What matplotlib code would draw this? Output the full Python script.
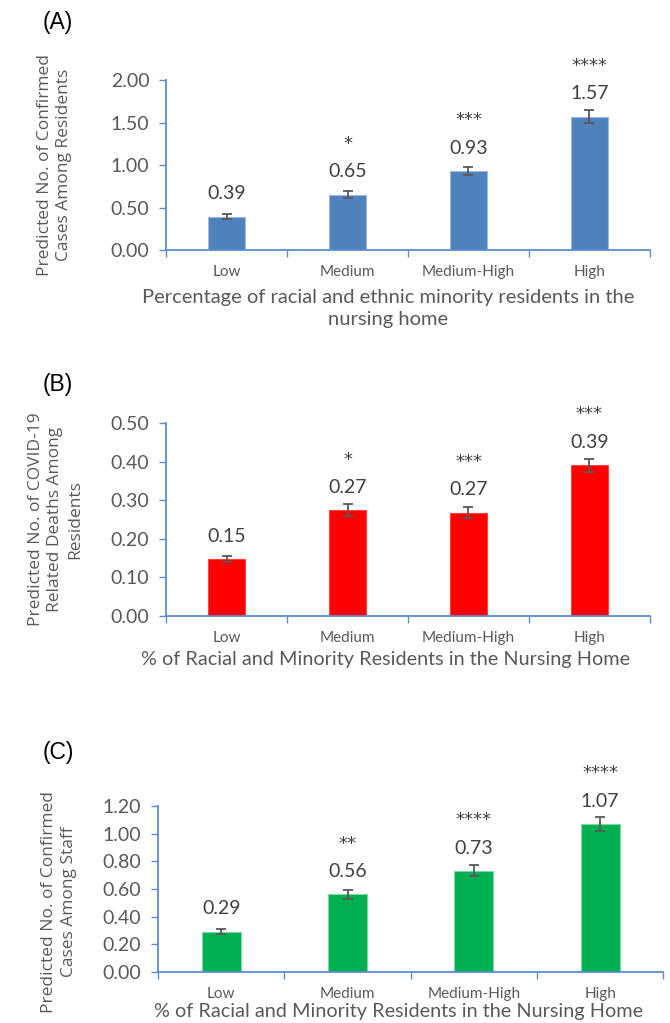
import matplotlib
matplotlib.use("Agg")
import matplotlib.pyplot as plt
import numpy as np

CATEGORIES = ["Low", "Medium", "Medium-High", "High"]

# (A) confirmed cases among residents
CASES_RES = [0.39, 0.65, 0.93, 1.57]
CASES_RES_ERR = [0.03, 0.04, 0.05, 0.08]
CASES_RES_STARS = ["", "*", "***", "****"]

# (B) COVID-19 related deaths among residents
DEATHS_RES = [0.147, 0.274, 0.268, 0.391]
DEATHS_RES_ERR = [0.008, 0.015, 0.014, 0.017]
DEATHS_RES_STARS = ["", "*", "***", "***"]

# (C) confirmed cases among staff
CASES_STAFF = [0.29, 0.56, 0.73, 1.07]
CASES_STAFF_ERR = [0.02, 0.03, 0.04, 0.05]
CASES_STAFF_STARS = ["", "**", "****", "****"]

AXIS_BLUE = "#5B8DD0"
GREY = "#595959"
DARK = "#404040"
MAIN_FONT = ["Lato", "DejaVu Sans"]
LABEL_FONT = ["Open Sans", "DejaVu Sans"]


def draw_panel(ax, values, errs, stars, color, edge, yticks, ylabel, ylab_x, ylab_y):
    x = np.arange(len(CATEGORIES))
    ax.bar(x, values, width=0.31, color=color, edgecolor=edge, linewidth=0.8, zorder=2)
    ax.errorbar(x, values, yerr=errs, fmt="none", ecolor=GREY, elinewidth=1.3,
                capsize=3.6, capthick=1.3, zorder=3)
    for xi, v, s in zip(x, values, stars):
        ax.annotate(f"{v:.2f}", (xi, v), xytext=(0, 16.5), textcoords="offset points",
                    ha="center", va="center", fontsize=14, color=DARK, family=MAIN_FONT)
        if s:
            ax.annotate(s, (xi, v), xytext=(0, 36.5), textcoords="offset points",
                        ha="center", va="center", fontsize=13, color=DARK,
                        family=["DejaVu Sans"])

    ax.set_xlim(-0.5, len(CATEGORIES) - 0.5)
    ax.set_ylim(yticks[0], yticks[-1])
    ax.set_yticks(yticks)
    ax.set_yticklabels([f"{t:.2f}" for t in yticks], family=MAIN_FONT, fontsize=14, color=GREY)
    ax.tick_params(axis="y", direction="out", length=5, width=1, color=AXIS_BLUE, pad=7)

    # ticks on category boundaries, labels in the middle
    ax.set_xticks(np.arange(-0.5, len(CATEGORIES), 1.0))
    ax.set_xticklabels([])
    ax.tick_params(axis="x", which="major", direction="out", length=5, width=1, color=AXIS_BLUE)
    ax.set_xticks(x, minor=True)
    ax.set_xticklabels(CATEGORIES, minor=True, family=MAIN_FONT, fontsize=11, color=GREY)
    ax.tick_params(axis="x", which="minor", length=0, pad=11)

    for side in ["top", "right"]:
        ax.spines[side].set_visible(False)
    for side in ["left", "bottom"]:
        ax.spines[side].set_color(AXIS_BLUE)
        ax.spines[side].set_linewidth(1.3)

    ax.text(ylab_x, ylab_y, ylabel, transform=ax.transAxes, rotation=90,
            ha="center", va="center", fontsize=12.5, color=GREY, family=LABEL_FONT,
            linespacing=1.3)


fig = plt.figure(figsize=(6.7, 10.23), dpi=100)

ax_a = fig.add_axes([0.248, 0.7556, 0.722, 0.1662])
draw_panel(ax_a, CASES_RES, CASES_RES_ERR, CASES_RES_STARS, "#4F81BD", "#9DB9E0",
           [0.0, 0.5, 1.0, 1.5, 2.0],
           "Predicted No. of Confirmed\nCases Among Residents", -0.231, 0.5)

ax_b = fig.add_axes([0.248, 0.3978, 0.722, 0.1887])
draw_panel(ax_b, DEATHS_RES, DEATHS_RES_ERR, DEATHS_RES_STARS, "#FF0000", "#FF4040",
           [0.0, 0.1, 0.2, 0.3, 0.4, 0.5],
           "Predicted No. of COVID-19\nRelated Deaths Among\nResidents", -0.229, 0.5)

ax_c = fig.add_axes([0.236, 0.0501, 0.754, 0.1620])
draw_panel(ax_c, CASES_STAFF, CASES_STAFF_ERR, CASES_STAFF_STARS, "#00B050", "#7FD7A7",
           [0.0, 0.2, 0.4, 0.6, 0.8, 1.0, 1.2],
           "Predicted No. of Confirmed\nCases Among Staff", -0.196, 0.42)

# x-axis titles
fig.text(388 / 670, 1 - 308.5 / 1023,
         "Percentage of racial and ethnic minority residents in the\nnursing home",
         ha="center", va="center", fontsize=14.5, color=GREY, family=MAIN_FONT, linespacing=1.3)
fig.text(386 / 670, 1 - 660 / 1023,
         "% of Racial and Minority Residents in the Nursing Home",
         ha="center", va="center", fontsize=14.3, color=GREY, family=MAIN_FONT)
fig.text(399 / 670, 1 - 1011 / 1023,
         "% of Racial and Minority Residents in the Nursing Home",
         ha="center", va="center", fontsize=14.3, color=GREY, family=MAIN_FONT)

# panel letters
for letter, ypix in [("(A)", 22), ("(B)", 385), ("(C)", 753)]:
    fig.text(43 / 670, 1 - ypix / 1023, letter, ha="left", va="center",
             fontsize=16.5, color="black", family=["Liberation Sans", "DejaVu Sans"])

fig.savefig("out.png", dpi=100)
